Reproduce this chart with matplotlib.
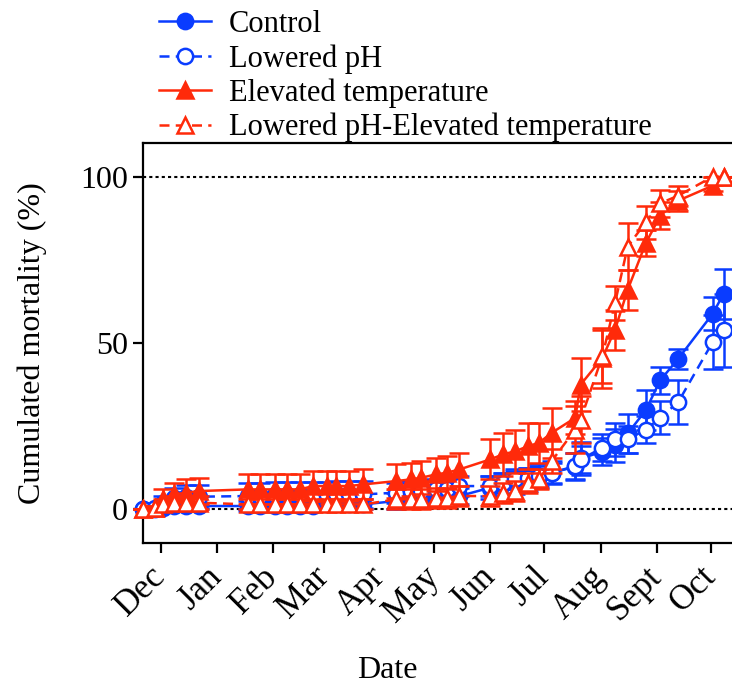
import numpy as np
import matplotlib
matplotlib.use('Agg')
import matplotlib.pyplot as plt

plt.rcParams['font.family'] = ['Liberation Serif', 'DejaVu Serif']

# sampling days, counted from 1 Dec
days = [-10, -3, 1, 7, 14, 21,
        48, 55, 63, 70, 77, 84, 92, 97, 104, 112,
        130, 138, 144, 152, 158, 165,
        182, 189, 196, 203, 209, 216,
        229, 232, 244, 251, 258, 268, 276, 286, 305, 311]

control = [0, 0, 0.5, 1, 1, 1,
           1, 1, 1, 1, 1, 1, 1.5, 1.5, 1.5, 1.5,
           2.5, 3, 3, 3.5, 3.5, 4,
           6.5, 7.5, 8, 9, 10, 11,
           12.8, 15.3, 17.3, 19.3, 22.8, 29.8, 38.8, 45.3, 58.8, 64.8]
control_err = [0, 0, 0.5, 1, 1, 1,
               1.5, 1.5, 1.5, 1.5, 1.5, 1.5, 1.5, 1.5, 1.5, 1.5,
               2.5, 2.5, 2.5, 2.5, 2.5, 2.5,
               3.5, 3.5, 3.5, 3.5, 3.5, 3.5,
               4, 5, 4, 5, 6, 6, 4, 3, 5, 7.5]

low_ph = [0, 0.5, 2, 3.5, 3.8, 3.8,
          4, 4, 4.3, 4.3, 4.3, 4.3, 4.3, 4.5, 4.5, 4.5,
          5, 5.5, 5.5, 6, 6, 7,
          7, 8, 9, 9.5, 10, 11,
          13, 15, 18.5, 21, 21, 24, 27.5, 32.3, 50.3, 53.8]
low_ph_err = [0, 0.5, 2, 3, 3.5, 3.5,
              4, 4, 4, 4, 4, 4, 4, 4, 4, 4,
              3, 3, 3, 3, 3, 3,
              3, 3, 3, 3, 3, 3,
              4, 4, 4, 5, 4, 4, 5, 6.5, 8, 11]

high_t = [0, 0.5, 3, 4.5, 5, 5.5,
          6, 6, 6, 6, 6, 7, 7, 7, 7, 7.5,
          8.5, 9, 9.5, 10.5, 11, 12,
          15, 16.5, 17.5, 19, 20, 23,
          27.5, 37.5, 45.5, 54, 66, 80, 88.3, 92.8, 97.3, 99.8]
high_t_err = [0, 0.5, 3, 3.5, 4, 4,
              4.5, 4.5, 4.5, 4.5, 4.5, 4.5, 4.5, 4.5, 4.5, 4.5,
              5, 5, 5, 5, 5, 5,
              6, 6.5, 6.5, 7, 6, 7.5,
              5, 8, 9, 6, 6, 4, 4, 3, 1.5, 0]

low_ph_high_t = [0, 0.5, 1.5, 2, 2, 2,
                 1.5, 1.5, 1.5, 1.5, 1.5, 1.5, 1.5, 1.5, 1.5, 1.5,
                 3, 3, 3, 3.5, 3.5, 4,
                 4, 5, 5.5, 8, 9, 14.5,
                 24, 27, 46, 62, 79, 86.3, 92, 94.3, 100, 100]
low_ph_high_t_err = [0, 0.5, 1.5, 2, 2, 2,
                     1.5, 1.5, 1.5, 1.5, 1.5, 1.5, 1.5, 1.5, 1.5, 1.5,
                     3, 3, 3, 3, 3, 3,
                     3, 3, 3, 3, 3, 3.5,
                     7, 7, 8, 5, 7, 5, 4, 3, 0, 0]

month_days = [0, 31, 62, 90, 121, 151, 182, 212, 243, 274, 304]
month_labels = ['Dec', 'Jan', 'Feb', 'Mar', 'Apr', 'May', 'Jun', 'Jul', 'Aug', 'Sept', 'Oct']

blue = '#0a3cff'
red = '#ff2a0a'

fig = plt.figure(figsize=(7.32, 6.86), dpi=100)
ax = fig.add_axes([0.195, 0.209, 0.8207, 0.582])

ax.axhline(0, color='k', ls=(0, (1.5, 1.5)), lw=1.5, zorder=1)
ax.axhline(100, color='k', ls=(0, (1.5, 1.5)), lw=1.5, zorder=1)

series = [
    ('Control', control, control_err, blue, '-', 'o', blue),
    ('Lowered pH', low_ph, low_ph_err, blue, '--', 'o', 'white'),
    ('Elevated temperature', high_t, high_t_err, red, '-', '^', red),
    ('Lowered pH-Elevated temperature', low_ph_high_t, low_ph_high_t_err, red, '--', '^', 'white'),
]

handles = []
for i, (name, vals, err, col, ls, mk, fc) in enumerate(series):
    cont = ax.errorbar(days, vals, yerr=err, color=col, ls=ls, lw=1.8,
                       marker=mk, ms=11, mfc=fc, mec=col, mew=1.8,
                       elinewidth=1.8, capsize=7.5, capthick=1.8,
                       dashes=(4, 2.5) if ls == '--' else (None, None),
                       zorder=3 + i, clip_on=False)
    handles.append(cont[0])
    for part in cont[1]:
        part.set_clip_on(False)
    for part in cont[2]:
        part.set_clip_on(False)

ax.set_xlim(-10, 322)
ax.set_ylim(-10, 110)
ax.set_yticks([0, 50, 100])
ax.set_xticks(month_days)
ax.set_xticklabels(month_labels, rotation=45, ha='right', va='center',
                   rotation_mode='anchor')
ax.tick_params(labelsize=23, width=1.6, length=7)
ax.tick_params(axis='x', labelsize=25, pad=14)

ax.spines['right'].set_visible(False)
for s in ['left', 'top', 'bottom']:
    ax.spines[s].set_linewidth(1.6)

ax.set_ylabel('Cumulated mortality (%)', fontsize=23, labelpad=24)
ax.set_xlabel('Date', fontsize=23)
ax.xaxis.set_label_coords(0.407, -0.284)

fig.legend(handles, [s[0] for s in series], loc='upper left',
           bbox_to_anchor=(0.2, 1.003), frameon=False, fontsize=22,
           handlelength=1.7, handletextpad=0.6, labelspacing=0.16,
           borderaxespad=0)

fig.savefig('out.png', dpi=100)
